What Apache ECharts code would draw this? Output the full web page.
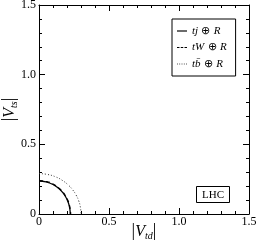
<!DOCTYPE html>
<html><head><meta charset="utf-8">
<script src="https://cdn.jsdelivr.net/npm/echarts@6/dist/echarts.min.js"></script>
<style>html,body{margin:0;padding:0;background:#fff}#c{width:257px;height:245px}</style>
</head><body><div id="c"></div>
<script>
// Curve points: [|Vtd|, |Vts|]
var tjR = [[0,0.237],[0.05,0.231],[0.10,0.212],[0.14,0.184],[0.17,0.153],[0.19,0.124],[0.205,0.093],[0.215,0.063],[0.221,0.032],[0.223,0]];
var tWR = [[0,0.240],[0.05,0.234],[0.10,0.215],[0.14,0.187],[0.17,0.157],[0.19,0.128],[0.207,0.095],[0.217,0.064],[0.223,0.033],[0.226,0]];
var tbR = [[0,0.290],[0.06,0.284],[0.12,0.266],[0.17,0.239],[0.21,0.207],[0.24,0.174],[0.265,0.136],[0.283,0.096],[0.295,0.053],[0.300,0]];
var seriesNames = ['tjR','tWR','tbR'];
var tickLabels = ['0','0.5','1.0','1.5'];
var boxLabel = 'LHC';

var serif = 'Liberation Serif';
function tickFmt(v){ var m={0:'0',0.5:'0.5',1:'1.0',1.5:'1.5'}; return m[v]!==undefined?m[v]:''; }
var legendRich = { i:{fontFamily:serif,fontStyle:'italic',fontSize:11,color:'#000'}, n:{fontFamily:serif,fontSize:11,color:'#000'} };
var legendText = {
  tjR:'{i|tj} {n|\u2295} {i|R}',
  tWR:'{i|tW} {n|\u2295} {i|R}',
  tbR:'{i|tb\u0304} {n|\u2295} {i|R}'
};
var legendIcons = {
  tjR:'path://M0,0h12v1.4h-12z',
  tWR:'path://M0,0h3v1.4h-3z M4.5,0h3v1.4h-3z M9,0h3v1.4h-3z',
  tbR:'path://M0,0h1v1h-1z M2.75,0h1v1h-1z M5.5,0h1v1h-1z M8.25,0h1v1h-1z M11,0h1v1h-1z'
};
var nameRich = {
  b:{fontFamily:serif,fontSize:18,color:'#000'},
  v:{fontFamily:serif,fontStyle:'italic',fontSize:16,color:'#000'},
  s:{fontFamily:serif,fontStyle:'italic',fontSize:10,color:'#000',padding:[9,0,0,0]}
};
function axisBase(pos, showLabel){
  return {
    type:'value', position:pos, min:0, max:1.5, interval:0.5,
    axisLine:{show:true,onZero:false,lineStyle:{color:'#000',width:1}},
    axisTick:{show:true,inside:true,length:6,lineStyle:{color:'#000'}},
    minorTick:{show:true,splitNumber:5,length:3,lineStyle:{color:'#000'}},
    splitLine:{show:false}, minorSplitLine:{show:false},
    axisLabel:{show:showLabel,formatter:tickFmt,fontFamily:serif,fontSize:12,color:'#000',margin:3}
  };
}
var chart = echarts.init(document.getElementById('c'));
var xb = axisBase('bottom',true);
xb.name='{b||}{v|V}{s|td}{b||}'; xb.nameLocation='middle'; xb.nameGap=8; xb.nameMoveOverlap=false;
xb.nameTextStyle={rich:nameRich};
xb.axisLabel.margin=2;
var yl = axisBase('left',true);
yl.name='{b||}{v|V}{s|ts}{b||}'; yl.nameLocation='middle'; yl.nameGap=20; yl.nameRotate=90; yl.nameMoveOverlap=false;
yl.nameTextStyle={rich:nameRich};
var xt = axisBase('top',false);
var yr = axisBase('right',false);
var lines = {tjR:{type:'solid',width:1.3,color:'#000'}, tWR:{type:[4,3],width:1.3,color:'#000'}, tbR:{type:[1,2],width:1,color:'#333'}};
var dataMap = {tjR:tjR,tWR:tWR,tbR:tbR};
chart.setOption({
  animation:false,
  grid:{left:39,right:8,top:5,bottom:31,containLabel:false,outerBoundsMode:'none'},
  xAxis:[xb,xt],
  yAxis:[yl,yr],
  legend:{
    show:true, left:172, top:19, orient:'vertical',
    data:seriesNames.map(function(n){return {name:n,icon:legendIcons[n]};}),
    itemWidth:10, itemHeight:10, itemGap:4.5,
    padding:[6,9,6,5], borderColor:'#000', borderWidth:1, borderRadius:0,
    formatter:function(n){return legendText[n];},
    textStyle:{rich:legendRich}, selectedMode:false
  },
  series: seriesNames.map(function(n){
    return {name:n,type:'line',data:dataMap[n],symbol:'none',showSymbol:false,smooth:true,
      lineStyle:lines[n], itemStyle:{color:lines[n].color}, xAxisIndex:0,yAxisIndex:0};
  }),
  graphic:[{
    type:'group', left:196, top:186,
    children:[
      {type:'rect',shape:{x:0,y:0,width:33,height:16},style:{fill:'#fff',stroke:'#000',lineWidth:1}},
      {type:'text',x:16.5,y:8.5,style:{text:boxLabel,fontFamily:serif,fontSize:11,fill:'#000',align:'center',verticalAlign:'middle'}}
    ]
  }]
});
</script></body></html>
